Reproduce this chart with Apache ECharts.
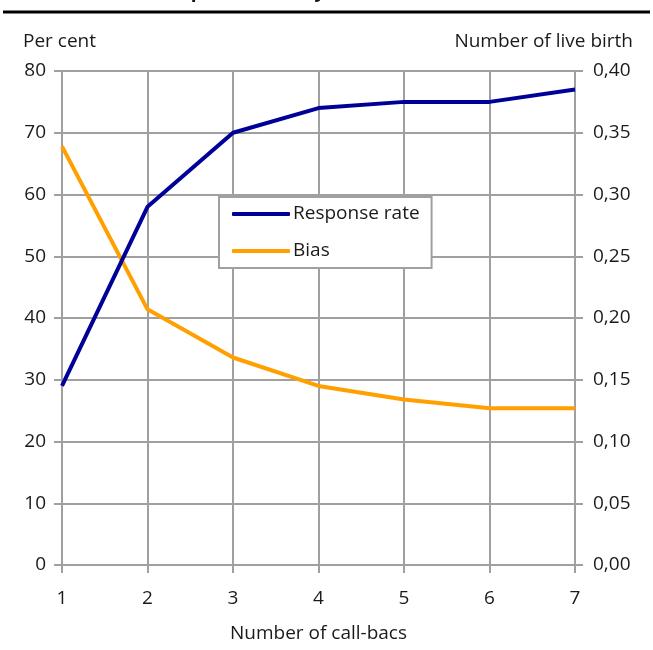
<!DOCTYPE html>
<html>
<head>
<meta charset="utf-8">
<script src="https://cdn.jsdelivr.net/npm/echarts@6/dist/echarts.min.js"></script>
<style>html,body{margin:0;padding:0;background:#fff;}#c{width:653px;height:650px;}</style>
</head>
<body>
<div id="c"></div>
<script>
var categories = ['1', '2', '3', '4', '5', '6', '7'];
var responseRate = [29, 58, 70, 74, 75, 75, 77];
var bias = [0.339, 0.207, 0.168, 0.145, 0.134, 0.127, 0.127];
var seriesNames = ['Response rate', 'Bias'];
var leftAxisName = 'Per cent';
var rightAxisName = 'Number of live birth';
var xAxisName = 'Number of call-bacs';
var titleText = 'Bias and response rate, by number of call-backs';

var FONT = '"Open Sans", "Noto Sans", sans-serif';
var FS = 19;
var GRID = '#a0a0a0';
var chart = echarts.init(document.getElementById('c'), null, {renderer: 'canvas'});
chart.setOption({
  animation: false,
  backgroundColor: '#fff',
  textStyle: {fontFamily: FONT, color: '#1a1a1a'},
  grid: {left: 62, right: 78, top: 71, bottom: 85, outerBoundsMode: 'none', containLabel: false},
  graphic: [
    {type: 'text', left: 76, top: -18, style: {text: titleText, font: 'bold 19px ' + FONT, fill: '#111'}},
    {type: 'line', shape: {x1: 3, y1: 12, x2: 650, y2: 12}, style: {stroke: '#000', lineWidth: 3}},
    {type: 'text', left: 23, top: 32, style: {text: leftAxisName, font: FS + 'px ' + FONT, fill: '#1a1a1a'}},
    {type: 'text', right: 20, top: 32, style: {text: rightAxisName, font: FS + 'px ' + FONT, fill: '#1a1a1a'}}
  ],
  legend: {
    orient: 'vertical',
    left: 219, top: 197,
    padding: [7, 12, 7, 13],
    icon: 'roundRect',
    itemWidth: 58, itemHeight: 4, itemGap: 17,
    backgroundColor: '#fff',
    borderColor: GRID, borderWidth: 2, borderRadius: 0,
    textStyle: {fontFamily: FONT, fontSize: FS, color: '#1a1a1a', padding: [0, 0, 0, -2], lineHeight: 20},
    data: seriesNames
  },
  xAxis: {
    type: 'category',
    data: categories,
    boundaryGap: false,
    name: xAxisName,
    nameLocation: 'middle',
    nameGap: 59,
    nameTextStyle: {fontFamily: FONT, fontSize: FS, color: '#1a1a1a'},
    axisLine: {lineStyle: {color: GRID, width: 2}},
    axisTick: {show: true, length: 8, lineStyle: {color: GRID, width: 2}},
    axisLabel: {fontFamily: FONT, fontSize: FS, color: '#1a1a1a', margin: 24},
    splitLine: {show: true, lineStyle: {color: GRID, width: 2}}
  },
  yAxis: [
    {
      type: 'value', min: 0, max: 80, interval: 10, position: 'left',
      axisLine: {show: true, lineStyle: {color: GRID, width: 2}},
      axisTick: {show: true, length: 8, lineStyle: {color: GRID, width: 2}},
      axisLabel: {fontFamily: FONT, fontSize: FS, color: '#1a1a1a', margin: 16},
      splitLine: {show: true, lineStyle: {color: GRID, width: 2}}
    },
    {
      type: 'value', min: 0, max: 0.4, interval: 0.05, position: 'right',
      axisLine: {show: true, lineStyle: {color: GRID, width: 2}},
      axisTick: {show: true, length: 8, lineStyle: {color: GRID, width: 2}},
      axisLabel: {fontFamily: FONT, fontSize: FS, color: '#1a1a1a', margin: 18,
        formatter: function (v) { return v.toFixed(2).replace('.', ','); }},
      splitLine: {show: false}
    }
  ],
  series: [
    {
      name: seriesNames[0], type: 'line', yAxisIndex: 0, data: responseRate,
      symbol: 'none', color: '#000099', lineStyle: {color: '#000099', width: 4}, z: 3
    },
    {
      name: seriesNames[1], type: 'line', yAxisIndex: 1, data: bias,
      symbol: 'none', color: '#FFA000', lineStyle: {color: '#FFA000', width: 4}, z: 2
    }
  ]
});
</script>
</body>
</html>
